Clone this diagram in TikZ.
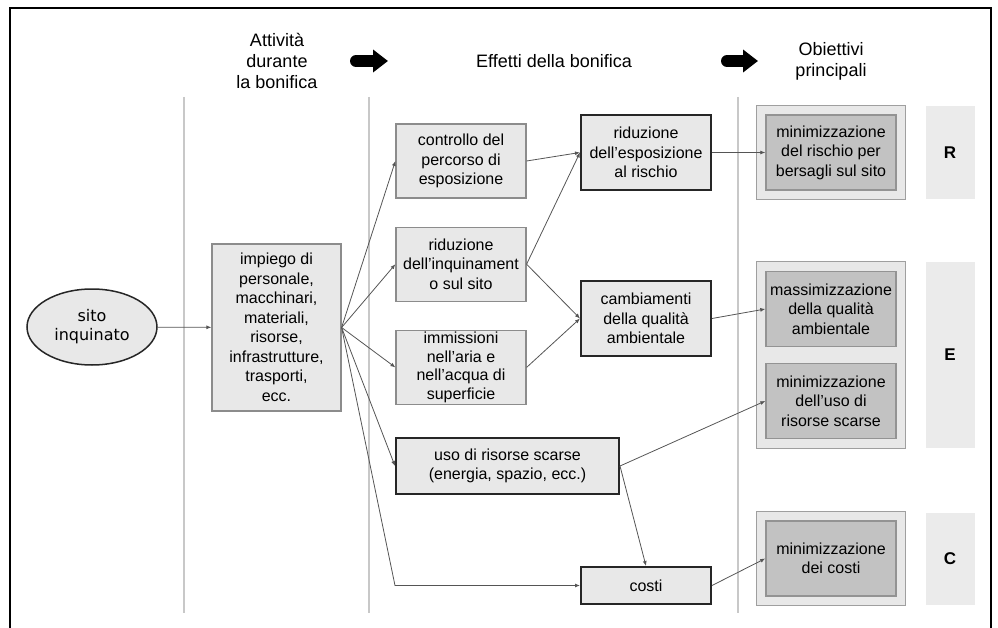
\documentclass[tikz,border=0pt]{standalone}
\usepackage{fontspec}
\setmainfont{Liberation Sans}
\newfontfamily\sitofont{DejaVu Sans}
\usetikzlibrary{shapes,arrows.meta,positioning,fit,calc,backgrounds}
\definecolor{boxgray}{HTML}{E8E8E8}
\definecolor{goalgray}{HTML}{C2C2C2}
\definecolor{tabgray}{HTML}{EBEBEB}
\definecolor{linegray}{HTML}{555555}
\definecolor{rulegray}{HTML}{C8C8C8}

\begin{document}
\begin{tikzpicture}[x=1pt,y=-1pt,font=\fontsize{16}{19.5}\selectfont]
        % Define styles
        \tikzstyle{effect} = [rectangle, draw=gray!90, line width=1.2pt, fill=boxgray,
            minimum width=130pt, minimum height=74pt, align=center, inner sep=0pt]
        \tikzstyle{keybox} = [rectangle, draw=black!85, line width=2pt, fill=boxgray,
            minimum width=130pt, minimum height=75pt, align=center, inner sep=0pt]
        \tikzstyle{goal} = [rectangle, draw=gray!85, line width=1.4pt, fill=goalgray,
            minimum width=130pt, minimum height=75pt, align=center, inner sep=0pt]
        \tikzstyle{goalgroup} = [rectangle, draw=gray!75, line width=1.4pt, fill=boxgray, inner sep=9pt]
        \tikzstyle{tag} = [rectangle, fill=tabgray, minimum width=49pt, font=\fontsize{17}{20}\selectfont\bfseries]
        \tikzstyle{header} = [align=center, font=\fontsize{18}{21}\selectfont]
        \tikzstyle{divider} = [draw=rulegray, line width=1.2pt]
        \tikzstyle{arrow} = [draw=linegray, line width=0.8pt, -{Latex[length=5pt,width=4pt]}]
        \tikzstyle{bigarrow} = [line width=12pt, line cap=round, -{Triangle[length=15pt,width=22pt]}]

        \useasboundingbox (0,0) rectangle (998,628);
        \draw[line width=2pt] (10,628) -- (10,8) -- (991,8) -- (991,628);

        % Column headers
        \node [header] (hAtt) at (277,61) {Attività\\durante\\la bonifica};
        \node [header] (hEff) at (554,61) {Effetti della bonifica};
        \node [header] (hObi) at (831,61) {Obiettivi\\principali};
        \draw [bigarrow] (356,61) -- (388,61);
        \draw [bigarrow] (727,61) -- (758,61);

        % Column dividers
        \draw [divider] (184,97) -- (184,613);
        \draw [divider] (369,97) -- (369,613);
        \draw [divider] (738,97) -- (738,613);

        % Nodes
        \node [ellipse, draw=black!85, line width=1.5pt, fill=boxgray, minimum width=130pt,
            minimum height=76pt, align=center, inner sep=0pt,
            font=\sitofont\fontsize{16}{19}\selectfont] (site) at (92,327) {sito\\inquinato};
        \node [effect, minimum width=129pt, minimum height=167pt] (impiego) at (276.5,327.5)
            {impiego di\\personale,\\macchinari,\\materiali,\\risorse,\\infrastrutture,\\trasporti,\\ecc.};

        \node [effect] (controllo) at (461,161) {controllo del\\percorso di\\esposizione};
        \node [effect, below=28pt of controllo] (inquinamento) {riduzione\\dell'inquinament\\o sul sito};
        \node [effect, below=28pt of inquinamento, font=\fontsize{16}{18.5}\selectfont] (immissioni)
            {immissioni\\nell'aria e\\nell'acqua di\\superficie};
        \node [keybox, minimum width=223pt, minimum height=56pt] (uso) at (507.5,466)
            {uso di risorse scarse\\(energia, spazio, ecc.)};

        \node [keybox] (esposizione) at (646,152.5) {riduzione\\dell'esposizione\\al rischio};
        \node [keybox] (ambiente) at (646,318.5) {cambiamenti\\della qualità\\ambientale};
        \node [keybox, minimum height=37pt] (costi) at (646,585.5) {costi};

        \node [goal] (gRischio) at (831,152.5) {minimizzazione\\del rischio per\\bersagli sul sito};
        \node [goal] (gQualita) at (831,309) {massimizzazione\\della qualità\\ambientale};
        \node [goal] (gRisorse) at (831,401) {minimizzazione\\dell'uso di\\risorse scarse};
        \node [goal] (gCosti) at (831,558.5) {minimizzazione\\dei costi};

        % Goal groups and R/E/C tags
        \begin{scope}[on background layer]
            \node [goalgroup, fit=(gRischio)] (grpR) {};
            \node [goalgroup, fit=(gQualita) (gRisorse)] (grpE) {};
            \node [goalgroup, fit=(gCosti)] (grpC) {};
        \end{scope}
        \node [tag, minimum height=93pt, right=19pt of grpR] (tagR) {R};
        \node [tag, minimum height=185pt, right=19pt of grpE] (tagE) {E};
        \node [tag, minimum height=92pt, right=19pt of grpC] (tagC) {C};

        % Arrows
        \draw [arrow] (site) -- (impiego);
        \draw [arrow] (impiego.east) -- (controllo.west);
        \draw [arrow] (impiego.east) -- (inquinamento.west);
        \draw [arrow] (impiego.east) -- (immissioni.west);
        \draw [arrow] (impiego.east) -- (uso.west);
        \draw [arrow] (impiego.east) -- (uso.west |- costi.west) -- (costi.west);
        \draw [arrow] (controllo.east) -- (esposizione.west);
        \draw [arrow] (inquinamento.east) -- (esposizione.west);
        \draw [arrow] (inquinamento.east) -- (ambiente.west);
        \draw [arrow] (immissioni.east) -- (ambiente.west);
        \draw [arrow] (esposizione.east) -- (gRischio.west);
        \draw [arrow] (ambiente.east) -- (gQualita.west);
        \draw [arrow] (uso.east) -- (gRisorse.west);
        \draw [arrow] (uso.east) -- (costi.north);
        \draw [arrow] (costi.east) -- (gCosti.west);
    \end{tikzpicture}
\end{document}
